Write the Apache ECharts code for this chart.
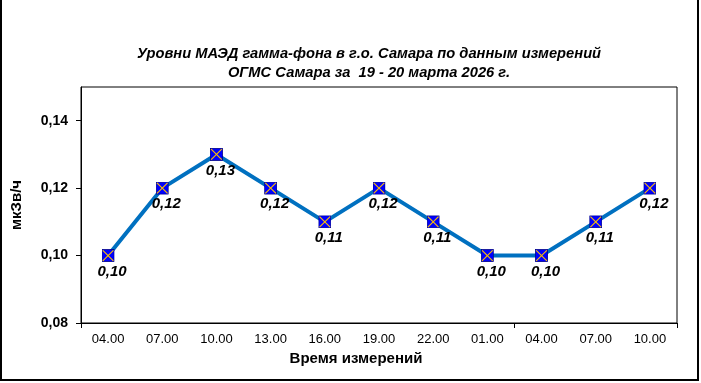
<!DOCTYPE html>
<html>
<head>
<meta charset="utf-8">
<script src="https://cdn.jsdelivr.net/npm/echarts@6/dist/echarts.min.js"></script>
<style>
html,body{margin:0;padding:0;background:#fff;}
#c{width:701px;height:383px;}
</style>
</head>
<body>
<div id="c"></div>
<script>
const titleLines = ['Уровни МАЭД гамма-фона в г.о. Самара по данным измерений', 'ОГМС Самара за  19 - 20 марта 2026 г.'];
const categories = ['04.00','07.00','10.00','13.00','16.00','19.00','22.00','01.00','04.00','07.00','10.00'];
const values = [0.10,0.12,0.13,0.12,0.11,0.12,0.11,0.10,0.10,0.11,0.12];
const yTicks = [0.08,0.10,0.12,0.14];
const yName = 'мкЗв/ч';
const xName = 'Время измерений';

const FONT = "'Liberation Sans', Arial, sans-serif";
const fmt = v => v.toFixed(2).replace('.', ',');
const markerSvg = '<svg xmlns="http://www.w3.org/2000/svg" width="13" height="13" viewBox="0 0 13 13">' +
  '<rect x="0.5" y="0.5" width="12" height="12" fill="#0000FF" stroke="#00008B" stroke-width="0.8"/>' +
  '<line x1="1.2" y1="1.2" x2="11.8" y2="11.8" stroke="#FFC000" stroke-width="1.1"/>' +
  '<line x1="11.8" y1="1.2" x2="1.2" y2="11.8" stroke="#FFC000" stroke-width="1.1"/></svg>';
const marker = 'image://data:image/svg+xml;charset=utf-8,' + encodeURIComponent(markerSvg);

const chart = echarts.init(document.getElementById('c'), null, {renderer: 'canvas'});
chart.setOption({
  animation: false,
  backgroundColor: '#fff',
  textStyle: {fontFamily: FONT},
  title: {
    text: titleLines.join('\n'),
    left: 364, top: 39, textAlign: 'center',
    textStyle: {fontFamily: FONT, fontSize: 14.7, fontWeight: 'bold', fontStyle: 'italic', color: '#000', lineHeight: 19}
  },
  grid: {left: 81, right: 24, top: 87, bottom: 60, show: true, borderColor: '#000', borderWidth: 1, backgroundColor: 'transparent'},
  xAxis: {
    type: 'category', data: categories, boundaryGap: true,
    name: xName, nameLocation: 'middle', nameGap: 25,
    nameTextStyle: {fontFamily: FONT, fontSize: 15, fontWeight: 'bold', color: '#000', padding: [0, 46, 0, 0]},
    axisLine: {lineStyle: {color: '#000', width: 1}},
    axisTick: {show: true, length: 5, lineStyle: {color: '#000'}, interval: (i) => i === 0 || i === 8},
    axisLabel: {fontFamily: FONT, fontSize: 13, color: '#000', margin: 10, interval: 0},
    splitLine: {show: false}
  },
  yAxis: {
    type: 'value', min: 0.08, max: 0.15, interval: 0.02,
    name: yName, nameLocation: 'middle', nameGap: 57, nameRotate: 90,
    nameTextStyle: {fontFamily: FONT, fontSize: 15, fontWeight: 'bold', color: '#000'},
    axisLine: {show: true, lineStyle: {color: '#000', width: 1}},
    axisTick: {show: true, length: 5, inside: false, lineStyle: {color: '#000'}, customValues: yTicks},
    axisLabel: {fontFamily: FONT, fontSize: 14, fontWeight: 'bold', color: '#000', margin: 13, customValues: yTicks, formatter: v => fmt(v)},
    splitLine: {show: false}
  },
  series: [{
    type: 'line', data: values,
    lineStyle: {color: '#0070C0', width: 4},
    symbol: marker, symbolSize: 13, showAllSymbol: true,
    itemStyle: {color: '#0000FF'},
    label: {show: true, position: 'bottom', distance: 2, offset: [4, 0],
      fontFamily: FONT, fontSize: 15, fontWeight: 'bold', fontStyle: 'italic', color: '#000',
      formatter: p => fmt(p.value)},
    z: 3
  }],
  graphic: [{
    type: 'rect', silent: true, z: 100,
    shape: {x: 1, y: -5, width: 697, height: 385},
    style: {fill: 'none', stroke: '#000', lineWidth: 2}
  }]
});
</script>
</body>
</html>
